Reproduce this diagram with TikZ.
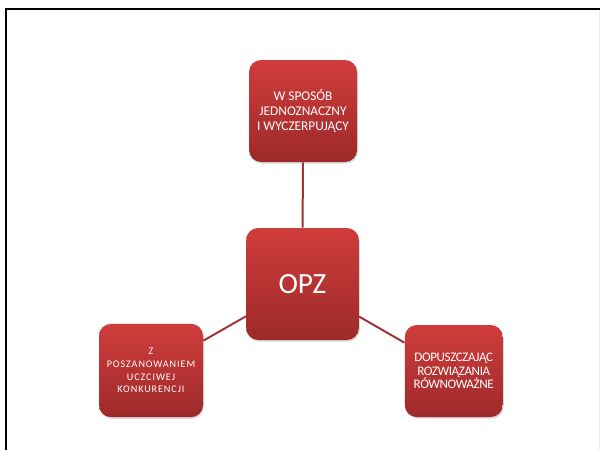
\documentclass[tikz,border=0pt]{standalone}
\usepackage{fontspec}
\setmainfont{Carlito}
\usetikzlibrary{shadows}
\definecolor{boxtop}{RGB}{207,61,59}
\definecolor{boxbot}{RGB}{158,41,42}
\definecolor{linkred}{RGB}{158,52,52}
\tikzset{
    box/.style={rounded corners=9pt, top color=boxtop, bottom color=boxbot, draw=none,
        text=white, align=center, inner sep=2pt,
        drop shadow={shadow xshift=0.8pt, shadow yshift=-1.2pt, opacity=0.3}},
    link/.style={line width=1.5pt, color=linkred}
}
\begin{document}
\begin{tikzpicture}[x=0.75pt, y=-0.75pt]
    \useasboundingbox (0,0) rectangle (600,450);
    % frame
    \draw [line width=1.9pt] (6,450) -- (6,9) -- (600,9);
    \draw [line width=0.6pt, color=black!8] (599,10) -- (599,450);
    % boxes
    \node [box, minimum width=84.5pt, minimum height=84pt, font=\fontsize{22}{26}\selectfont] (opz) at (302.5,284) {OPZ};
    \node [box, minimum width=81pt, minimum height=76.5pt, font=\fontsize{10}{11}\selectfont] (top) at (303,111)
        {W SPOSÓB\\JEDNOZNACZNY\\I WYCZERPUJĄCY};
    \node [box, minimum width=78pt, minimum height=70pt, font=\fontsize{7.6}{9.6}\selectfont\addfontfeature{LetterSpace=9}] (left) at (151,370.5)
        {Z\\POSZANOWANIEM\\UCZCIWEJ\\KONKURENCJI};
    \node [box, minimum width=73.5pt, minimum height=69pt, font=\fontsize{9.8}{10.2}\selectfont\addfontfeature{LetterSpace=-3}] (right) at (453.75,371)
        {DOPUSZCZAJĄC\\ROZWIĄZANIA\\RÓWNOWAŻNE};
    % connectors
    \draw [link] (opz) -- (top);
    \draw [link] (opz) -- (left);
    \draw [link] (opz) -- (right);
\end{tikzpicture}
\end{document}
